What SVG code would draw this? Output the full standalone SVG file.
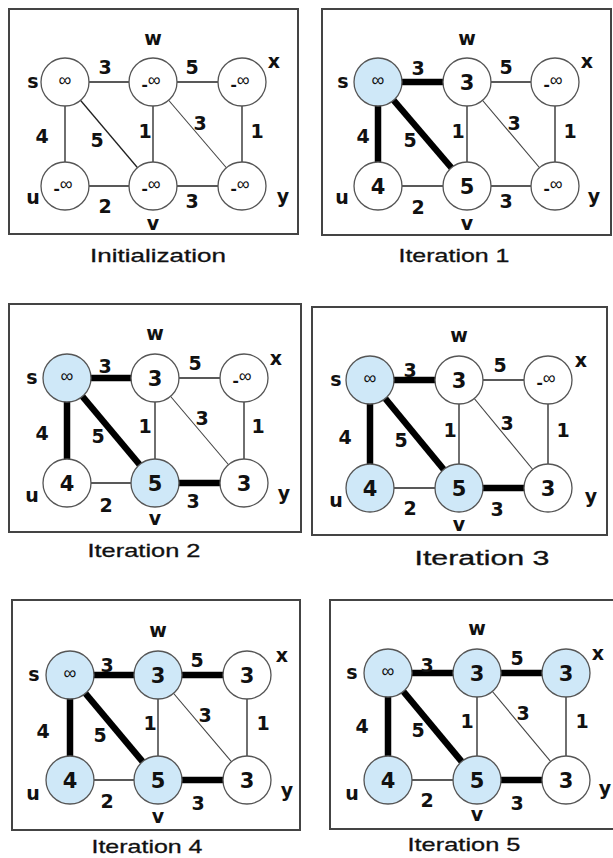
<svg xmlns="http://www.w3.org/2000/svg" width="613" height="858" viewBox="0 0 613 858">
<style>
.bg{fill:#fff}
.box{fill:none;stroke:#444;stroke-width:2}
.e{stroke:#222;stroke-width:1.3}
.ed{stroke:#444;stroke-width:1.1}
.t{stroke:#000;stroke-width:6.5}
.n{fill:#fff;stroke:#555;stroke-width:1.3}
.nb{fill:#cfe8f8;stroke:#555;stroke-width:1.3}
text{font-family:"Liberation Sans",Arial,sans-serif;fill:#111}
.lbl,.wt,.num{font-family:"DejaVu Sans","Liberation Sans",Arial,sans-serif;font-weight:bold;text-anchor:middle}
.lbl{font-size:19px}
.wt{font-size:19px}
.num{font-size:21px}
.inf{font-size:18px;text-anchor:middle}
.dash{font-size:19px;font-weight:bold}
.cap{font-size:19px;text-anchor:middle;stroke:#111;stroke-width:0.3}
</style>
<rect class="bg" x="0" y="0" width="613" height="858"/>

<!-- Panel 1: Initialization -->
<g id="panel1">
<rect class="box" x="9" y="9" width="289" height="225"/>
<g id="p1-edges">
<line class="e" x1="65" y1="82" x2="153" y2="82"/>
<line class="e" x1="153" y1="82" x2="242" y2="82"/>
<line class="e" x1="65" y1="82" x2="65" y2="186"/>
<line class="e" x1="65" y1="82" x2="153" y2="186"/>
<line class="e" x1="153" y1="82" x2="153" y2="186"/>
<line class="ed" x1="153" y1="82" x2="242" y2="186"/>
<line class="e" x1="242" y1="82" x2="242" y2="186"/>
<line class="e" x1="65" y1="186" x2="153" y2="186"/>
<line class="e" x1="153" y1="186" x2="242" y2="186"/>
</g>
<g id="p1-weights">
<text class="wt" x="105" y="74">3</text>
<text class="wt" x="192" y="74">5</text>
<text class="wt" x="42" y="143">4</text>
<text class="wt" x="97" y="147">5</text>
<text class="wt" x="145" y="138">1</text>
<text class="wt" x="200" y="130">3</text>
<text class="wt" x="257" y="138">1</text>
<text class="wt" x="105" y="213">2</text>
<text class="wt" x="192" y="208">3</text>
</g>
<g id="p1-s"><circle class="n" cx="65" cy="82" r="24"/><text class="inf" x="65" y="86">∞</text><text class="lbl" x="33" y="88">s</text></g>
<g id="p1-w"><circle class="n" cx="153" cy="82" r="24"/><text class="inf" x="151" y="91"><tspan class="dash">-</tspan><tspan dy="-5">∞</tspan></text><text class="lbl" x="153" y="45">w</text></g>
<g id="p1-x"><circle class="n" cx="242" cy="82" r="24"/><text class="inf" x="240" y="91"><tspan class="dash">-</tspan><tspan dy="-5">∞</tspan></text><text class="lbl" x="274" y="68">x</text></g>
<g id="p1-u"><circle class="n" cx="65" cy="186" r="24"/><text class="inf" x="63" y="195"><tspan class="dash">-</tspan><tspan dy="-5">∞</tspan></text><text class="lbl" x="33" y="204">u</text></g>
<g id="p1-v"><circle class="n" cx="153" cy="186" r="24"/><text class="inf" x="151" y="195"><tspan class="dash">-</tspan><tspan dy="-5">∞</tspan></text><text class="lbl" x="153" y="230">v</text></g>
<g id="p1-y"><circle class="n" cx="242" cy="186" r="24"/><text class="inf" x="240" y="195"><tspan class="dash">-</tspan><tspan dy="-5">∞</tspan></text><text class="lbl" x="283" y="203">y</text></g>
<text class="cap" x="158" y="262" textLength="136" lengthAdjust="spacingAndGlyphs">Initialization</text>
</g>

<!-- Panel 2: Iteration 1 -->
<g id="panel2">
<rect class="box" x="322" y="9" width="289" height="226"/>
<g id="p2-edges">
<line class="t" x1="378" y1="82" x2="467" y2="82"/>
<line class="e" x1="467" y1="82" x2="555" y2="82"/>
<line class="t" x1="378" y1="82" x2="378" y2="186"/>
<line class="t" x1="378" y1="82" x2="467" y2="186"/>
<line class="e" x1="467" y1="82" x2="467" y2="186"/>
<line class="ed" x1="467" y1="82" x2="555" y2="186"/>
<line class="e" x1="555" y1="82" x2="555" y2="186"/>
<line class="e" x1="378" y1="186" x2="467" y2="186"/>
<line class="e" x1="467" y1="186" x2="555" y2="186"/>
</g>
<g id="p2-weights">
<text class="wt" x="418" y="75">3</text>
<text class="wt" x="506" y="74">5</text>
<text class="wt" x="363" y="143">4</text>
<text class="wt" x="410" y="147">5</text>
<text class="wt" x="458" y="138">1</text>
<text class="wt" x="514" y="130">3</text>
<text class="wt" x="570" y="138">1</text>
<text class="wt" x="418" y="214">2</text>
<text class="wt" x="506" y="208">3</text>
</g>
<g id="p2-s"><circle class="nb" cx="378" cy="82" r="24"/><text class="inf" x="378" y="86">∞</text><text class="lbl" x="343" y="88">s</text></g>
<g id="p2-w"><circle class="n" cx="467" cy="82" r="24"/><text class="num" x="467" y="90">3</text><text class="lbl" x="467" y="45">w</text></g>
<g id="p2-x"><circle class="n" cx="555" cy="82" r="24"/><text class="inf" x="553" y="91"><tspan class="dash">-</tspan><tspan dy="-5">∞</tspan></text><text class="lbl" x="587" y="68">x</text></g>
<g id="p2-u"><circle class="n" cx="378" cy="186" r="24"/><text class="num" x="378" y="194">4</text><text class="lbl" x="342" y="204">u</text></g>
<g id="p2-v"><circle class="n" cx="467" cy="186" r="24"/><text class="num" x="467" y="194">5</text><text class="lbl" x="467" y="230">v</text></g>
<g id="p2-y"><circle class="n" cx="555" cy="186" r="24"/><text class="inf" x="553" y="195"><tspan class="dash">-</tspan><tspan dy="-5">∞</tspan></text><text class="lbl" x="594" y="203">y</text></g>
<text class="cap" x="454" y="262" textLength="111" lengthAdjust="spacingAndGlyphs">Iteration 1</text>
</g>

<!-- Panel 3: Iteration 2 -->
<g id="panel3">
<rect class="box" x="9" y="304" width="292" height="228"/>
<g id="p3-edges">
<line class="t" x1="67" y1="378" x2="155" y2="378"/>
<line class="e" x1="155" y1="378" x2="244" y2="378"/>
<line class="t" x1="67" y1="378" x2="67" y2="483"/>
<line class="t" x1="67" y1="378" x2="155" y2="483"/>
<line class="e" x1="155" y1="378" x2="155" y2="483"/>
<line class="ed" x1="155" y1="378" x2="244" y2="483"/>
<line class="e" x1="244" y1="378" x2="244" y2="483"/>
<line class="e" x1="67" y1="483" x2="155" y2="483"/>
<line class="t" x1="155" y1="483" x2="244" y2="483"/>
</g>
<g id="p3-weights">
<text class="wt" x="105" y="373">3</text>
<text class="wt" x="195" y="370">5</text>
<text class="wt" x="42" y="440">4</text>
<text class="wt" x="98" y="443">5</text>
<text class="wt" x="145" y="433">1</text>
<text class="wt" x="202" y="425">3</text>
<text class="wt" x="258" y="433">1</text>
<text class="wt" x="106" y="512">2</text>
<text class="wt" x="193" y="508">3</text>
</g>
<g id="p3-s"><circle class="nb" cx="67" cy="378" r="24"/><text class="inf" x="67" y="382">∞</text><text class="lbl" x="32" y="384">s</text></g>
<g id="p3-w"><circle class="n" cx="155" cy="378" r="24"/><text class="num" x="155" y="386">3</text><text class="lbl" x="155" y="340">w</text></g>
<g id="p3-x"><circle class="n" cx="244" cy="378" r="24"/><text class="inf" x="242" y="387"><tspan class="dash">-</tspan><tspan dy="-5">∞</tspan></text><text class="lbl" x="276" y="365">x</text></g>
<g id="p3-u"><circle class="n" cx="67" cy="483" r="24"/><text class="num" x="67" y="491">4</text><text class="lbl" x="32" y="502">u</text></g>
<g id="p3-v"><circle class="nb" cx="155" cy="483" r="24"/><text class="num" x="155" y="491">5</text><text class="lbl" x="155" y="525">v</text></g>
<g id="p3-y"><circle class="n" cx="244" cy="483" r="24"/><text class="num" x="244" y="491">3</text><text class="lbl" x="284" y="500">y</text></g>
<text class="cap" x="144" y="557" textLength="113" lengthAdjust="spacingAndGlyphs">Iteration 2</text>
</g>

<!-- Panel 4: Iteration 3 -->
<g id="panel4">
<rect class="box" x="312" y="307" width="295" height="228"/>
<g id="p4-edges">
<line class="t" x1="370" y1="380" x2="459" y2="380"/>
<line class="e" x1="459" y1="380" x2="548" y2="380"/>
<line class="t" x1="370" y1="380" x2="370" y2="488"/>
<line class="t" x1="370" y1="380" x2="459" y2="488"/>
<line class="e" x1="459" y1="380" x2="459" y2="488"/>
<line class="ed" x1="459" y1="380" x2="548" y2="488"/>
<line class="e" x1="548" y1="380" x2="548" y2="488"/>
<line class="e" x1="370" y1="488" x2="459" y2="488"/>
<line class="t" x1="459" y1="488" x2="548" y2="488"/>
</g>
<g id="p4-weights">
<text class="wt" x="410" y="377">3</text>
<text class="wt" x="500" y="372">5</text>
<text class="wt" x="345" y="444">4</text>
<text class="wt" x="401" y="447">5</text>
<text class="wt" x="450" y="437">1</text>
<text class="wt" x="507" y="430">3</text>
<text class="wt" x="563" y="437">1</text>
<text class="wt" x="410" y="515">2</text>
<text class="wt" x="497" y="516">3</text>
</g>
<g id="p4-s"><circle class="nb" cx="370" cy="380" r="24"/><text class="inf" x="370" y="384">∞</text><text class="lbl" x="336" y="386">s</text></g>
<g id="p4-w"><circle class="n" cx="459" cy="380" r="24"/><text class="num" x="459" y="388">3</text><text class="lbl" x="459" y="342">w</text></g>
<g id="p4-x"><circle class="n" cx="548" cy="380" r="24"/><text class="inf" x="546" y="389"><tspan class="dash">-</tspan><tspan dy="-5">∞</tspan></text><text class="lbl" x="581" y="367">x</text></g>
<g id="p4-u"><circle class="nb" cx="370" cy="488" r="24"/><text class="num" x="370" y="496">4</text><text class="lbl" x="336" y="507">u</text></g>
<g id="p4-v"><circle class="nb" cx="459" cy="488" r="24"/><text class="num" x="459" y="496">5</text><text class="lbl" x="459" y="531">v</text></g>
<g id="p4-y"><circle class="n" cx="548" cy="488" r="24"/><text class="num" x="548" y="496">3</text><text class="lbl" x="591" y="503">y</text></g>
<text class="cap" x="482" y="565" style="font-size:20px" textLength="135" lengthAdjust="spacingAndGlyphs">Iteration 3</text>
</g>

<!-- Panel 5: Iteration 4 -->
<g id="panel5">
<rect class="box" x="12" y="600" width="288" height="230"/>
<g id="p5-edges">
<line class="t" x1="70" y1="675" x2="158" y2="675"/>
<line class="t" x1="158" y1="675" x2="247" y2="675"/>
<line class="t" x1="70" y1="675" x2="70" y2="780"/>
<line class="t" x1="70" y1="675" x2="158" y2="780"/>
<line class="e" x1="158" y1="675" x2="158" y2="780"/>
<line class="ed" x1="158" y1="675" x2="247" y2="780"/>
<line class="e" x1="247" y1="675" x2="247" y2="780"/>
<line class="e" x1="70" y1="780" x2="158" y2="780"/>
<line class="t" x1="158" y1="780" x2="247" y2="780"/>
</g>
<g id="p5-weights">
<text class="wt" x="107" y="672">3</text>
<text class="wt" x="197" y="667">5</text>
<text class="wt" x="43" y="738">4</text>
<text class="wt" x="100" y="742">5</text>
<text class="wt" x="150" y="730">1</text>
<text class="wt" x="205" y="722">3</text>
<text class="wt" x="263" y="730">1</text>
<text class="wt" x="107" y="808">2</text>
<text class="wt" x="198" y="810">3</text>
</g>
<g id="p5-s"><circle class="nb" cx="70" cy="675" r="24"/><text class="inf" x="70" y="679">∞</text><text class="lbl" x="34" y="681">s</text></g>
<g id="p5-w"><circle class="nb" cx="158" cy="675" r="24"/><text class="num" x="158" y="683">3</text><text class="lbl" x="158" y="637">w</text></g>
<g id="p5-x"><circle class="n" cx="247" cy="675" r="24"/><text class="num" x="247" y="683">3</text><text class="lbl" x="282" y="662">x</text></g>
<g id="p5-u"><circle class="nb" cx="70" cy="780" r="24"/><text class="num" x="70" y="788">4</text><text class="lbl" x="33" y="800">u</text></g>
<g id="p5-v"><circle class="nb" cx="158" cy="780" r="24"/><text class="num" x="158" y="788">5</text><text class="lbl" x="158" y="823">v</text></g>
<g id="p5-y"><circle class="n" cx="247" cy="780" r="24"/><text class="num" x="247" y="788">3</text><text class="lbl" x="287" y="797">y</text></g>
<text class="cap" x="147" y="853" textLength="111" lengthAdjust="spacingAndGlyphs">Iteration 4</text>
</g>

<!-- Panel 6: Iteration 5 -->
<g id="panel6">
<rect class="box" x="330" y="600" width="300" height="229"/>
<g id="p6-edges">
<line class="t" x1="388" y1="673" x2="477" y2="673"/>
<line class="t" x1="477" y1="673" x2="566" y2="673"/>
<line class="t" x1="388" y1="673" x2="388" y2="780"/>
<line class="t" x1="388" y1="673" x2="477" y2="780"/>
<line class="e" x1="477" y1="673" x2="477" y2="780"/>
<line class="ed" x1="477" y1="673" x2="566" y2="780"/>
<line class="e" x1="566" y1="673" x2="566" y2="780"/>
<line class="e" x1="388" y1="780" x2="477" y2="780"/>
<line class="t" x1="477" y1="780" x2="566" y2="780"/>
</g>
<g id="p6-weights">
<text class="wt" x="427" y="672">3</text>
<text class="wt" x="517" y="665">5</text>
<text class="wt" x="362" y="733">4</text>
<text class="wt" x="418" y="737">5</text>
<text class="wt" x="467" y="728">1</text>
<text class="wt" x="523" y="720">3</text>
<text class="wt" x="582" y="728">1</text>
<text class="wt" x="427" y="807">2</text>
<text class="wt" x="517" y="810">3</text>
</g>
<g id="p6-s"><circle class="nb" cx="388" cy="673" r="24"/><text class="inf" x="388" y="677">∞</text><text class="lbl" x="352" y="679">s</text></g>
<g id="p6-w"><circle class="nb" cx="477" cy="673" r="24"/><text class="num" x="477" y="681">3</text><text class="lbl" x="477" y="635">w</text></g>
<g id="p6-x"><circle class="nb" cx="566" cy="673" r="24"/><text class="num" x="566" y="681">3</text><text class="lbl" x="598" y="660">x</text></g>
<g id="p6-u"><circle class="nb" cx="388" cy="780" r="24"/><text class="num" x="388" y="788">4</text><text class="lbl" x="352" y="800">u</text></g>
<g id="p6-v"><circle class="nb" cx="477" cy="780" r="24"/><text class="num" x="477" y="788">5</text><text class="lbl" x="477" y="821">v</text></g>
<g id="p6-y"><circle class="n" cx="566" cy="780" r="24"/><text class="num" x="566" y="788">3</text><text class="lbl" x="605" y="795">y</text></g>
<text class="cap" x="464" y="851" textLength="113" lengthAdjust="spacingAndGlyphs">Iteration 5</text>
</g>
</svg>
